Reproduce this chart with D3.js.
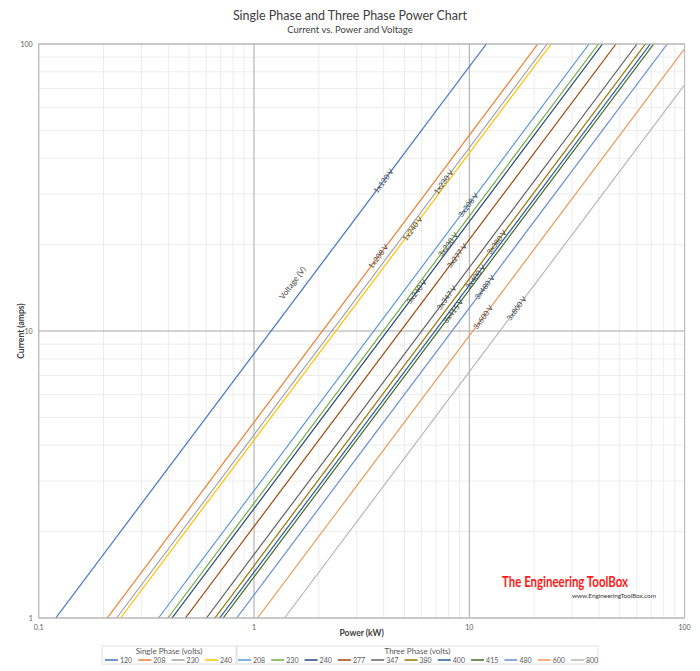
<!DOCTYPE html>
<html>
<head>
<meta charset="utf-8">
<script src="https://cdn.jsdelivr.net/npm/d3@7"></script>
<style>
  html, body { margin: 0; padding: 0; background: #fff; }
  #chart { width: 700px; height: 671px; }
  text { font-family: Lato, 'Open Sans', sans-serif; }
</style>
</head>
<body>
<div id="chart"></div>
<script>
// Single phase series (volts) and the power (kW) where each line meets 1 A and 100 A
const singleVolts = [120, 208, 230, 240];
const singlePowerAt1A = [0.12, 0.208, 0.23, 0.24];
const singlePowerAt100A = [12, 20.8, 23, 24];
const singleColors = ['#4472C4', '#ED7D31', '#A5A5A5', '#FFC000'];
const singleLabelPower = [4.0, 3.78, 7.6, 5.45];

// Three phase series
const threeVolts = [208, 230, 240, 277, 347, 380, 400, 415, 480, 600, 800];
const threePowerAt1A = [0.360, 0.398, 0.416, 0.480, 0.601, 0.658, 0.693, 0.719, 0.831, 1.039, 1.386];
const threePowerAt100A = [36.0, 39.8, 41.6, 48.0, 60.1, 65.8, 69.3, 71.9, 83.1, 103.9, 138.6];
const threeColors = ['#5B9BD5', '#70AD47', '#264478', '#9E480E', '#636363', '#997300',
  '#255E91', '#43682B', '#698ED0', '#F1975A', '#B7B7B7'];
const threeLabelPower = [9.9, 7.96, 5.7, 8.77, 7.85, 13.4, 10.7, 8.43, 11.8, 11.6, 16.6];

const currentEnds = [1, 100];
const xTickValues = [0.1, 1, 10, 100];
const yTickValues = [1, 10, 100];
const voltageLabelPoint = { power: 1.51, current: 14.7 };

const width = 700;
const height = 671;
const margin = { top: 44, right: 15.4, bottom: 53, left: 38.7 };

const svg = d3.select('#chart')
  .append('svg')
  .attr('width', width)
  .attr('height', height);

svg.append('rect')
  .attr('width', width)
  .attr('height', height)
  .attr('fill', '#fff');

const x = d3.scaleLog()
  .domain([0.1, 100])
  .range([margin.left, width - margin.right]);

const y = d3.scaleLog()
  .domain([1, 100])
  .range([height - margin.bottom, margin.top]);

const plotLeft = x.range()[0], plotRight = x.range()[1];
const plotTop = y.range()[1], plotBottom = y.range()[0];

// Title
svg.append('text')
  .attr('x', 350)
  .attr('y', 20)
  .attr('text-anchor', 'middle')
  .attr('font-size', '12.5px')
  .attr('fill', '#404040')
  .text('Single Phase and Three Phase Power Chart');

svg.append('text')
  .attr('x', 350)
  .attr('y', 33)
  .attr('text-anchor', 'middle')
  .attr('font-size', '9.5px')
  .attr('fill', '#404040')
  .text('Current vs. Power and Voltage');

// Minor gridlines
const isDecade = (v) => Math.abs(Math.log10(v) - Math.round(Math.log10(v))) < 1e-6;

svg.append('g')
  .selectAll('line')
  .data(x.ticks().filter((v) => !isDecade(v)))
  .join('line')
  .attr('x1', (d) => x(d))
  .attr('x2', (d) => x(d))
  .attr('y1', plotTop)
  .attr('y2', plotBottom)
  .attr('stroke', '#ececec')
  .attr('stroke-width', 1);

svg.append('g')
  .selectAll('line')
  .data(y.ticks().filter((v) => !isDecade(v)))
  .join('line')
  .attr('x1', plotLeft)
  .attr('x2', plotRight)
  .attr('y1', (d) => y(d))
  .attr('y2', (d) => y(d))
  .attr('stroke', '#ececec')
  .attr('stroke-width', 1);

// Major gridlines
svg.append('g')
  .selectAll('line')
  .data(xTickValues)
  .join('line')
  .attr('x1', (d) => x(d))
  .attr('x2', (d) => x(d))
  .attr('y1', plotTop)
  .attr('y2', plotBottom)
  .attr('stroke', '#a6a6a6')
  .attr('stroke-width', 1);

svg.append('g')
  .selectAll('line')
  .data(yTickValues)
  .join('line')
  .attr('x1', plotLeft)
  .attr('x2', plotRight)
  .attr('y1', (d) => y(d))
  .attr('y2', (d) => y(d))
  .attr('stroke', '#a6a6a6')
  .attr('stroke-width', 1);

// Axis tick labels
svg.append('g')
  .selectAll('text')
  .data(yTickValues)
  .join('text')
  .attr('x', plotLeft - 6)
  .attr('y', (d) => y(d) + 2.5)
  .attr('text-anchor', 'end')
  .attr('font-size', '7px')
  .attr('fill', '#595959')
  .text((d) => d);

svg.append('g')
  .selectAll('text')
  .data(xTickValues)
  .join('text')
  .attr('x', (d) => x(d))
  .attr('y', plotBottom + 12)
  .attr('text-anchor', 'middle')
  .attr('font-size', '7px')
  .attr('fill', '#595959')
  .text((d) => d);

// Axis titles
svg.append('text')
  .attr('transform', `translate(24, ${(plotTop + plotBottom) / 2}) rotate(-90)`)
  .attr('text-anchor', 'middle')
  .attr('font-size', '8.5px')
  .attr('font-weight', 'bold')
  .attr('fill', '#404040')
  .text('Current (amps)');

svg.append('text')
  .attr('x', (plotLeft + plotRight) / 2)
  .attr('y', plotBottom + 18)
  .attr('text-anchor', 'middle')
  .attr('font-size', '8.5px')
  .attr('font-weight', 'bold')
  .attr('fill', '#404040')
  .text('Power (kW)');

// Build series
const series = [];
singleVolts.forEach((v, i) => series.push({
  name: `1x${v} V`, volts: v, color: singleColors[i],
  p1: singlePowerAt1A[i], p100: singlePowerAt100A[i], labelP: singleLabelPower[i]
}));
threeVolts.forEach((v, i) => series.push({
  name: `3x${v} V`, volts: v, color: threeColors[i],
  p1: threePowerAt1A[i], p100: threePowerAt100A[i], labelP: threeLabelPower[i]
}));

svg.append('defs')
  .append('clipPath')
  .attr('id', 'plot-clip')
  .append('rect')
  .attr('x', plotLeft)
  .attr('y', plotTop)
  .attr('width', plotRight - plotLeft)
  .attr('height', plotBottom - plotTop);

const line = d3.line()
  .x((d) => x(d.power))
  .y((d) => y(d.current));

const linesG = svg.append('g').attr('clip-path', 'url(#plot-clip)');

linesG.selectAll('path')
  .data(series)
  .join('path')
  .attr('fill', 'none')
  .attr('stroke', (d) => d.color)
  .attr('stroke-width', 1.2)
  .attr('d', (d) => line([
    { power: d.p1, current: currentEnds[0] },
    { power: d.p100, current: currentEnds[1] }
  ]));

// Line labels, placed on each line
const angleOf = (d) => Math.atan2(y(currentEnds[1]) - y(currentEnds[0]), x(d.p100) - x(d.p1)) * 180 / Math.PI;
const currentOnLine = (d, p) => {
  const t = (Math.log10(p) - Math.log10(d.p1)) / (Math.log10(d.p100) - Math.log10(d.p1));
  return Math.pow(10, Math.log10(currentEnds[0]) + t * (Math.log10(currentEnds[1]) - Math.log10(currentEnds[0])));
};

svg.append('g')
  .selectAll('text')
  .data(series)
  .join('text')
  .attr('transform', (d) => `translate(${x(d.labelP)}, ${y(currentOnLine(d, d.labelP))}) rotate(${angleOf(d)})`)
  .attr('text-anchor', 'middle')
  .attr('dy', '0.35em')
  .attr('font-size', '7.5px')
  .attr('fill', '#404040')
  .text((d) => d.name);

svg.append('text')
  .attr('transform', `translate(${x(voltageLabelPoint.power)}, ${y(voltageLabelPoint.current)}) rotate(${angleOf(series[0])})`)
  .attr('text-anchor', 'middle')
  .attr('dy', '0.35em')
  .attr('font-size', '8px')
  .attr('fill', '#404040')
  .text('Voltage (V)');

// Plot border
svg.append('rect')
  .attr('x', plotLeft)
  .attr('y', plotTop)
  .attr('width', plotRight - plotLeft)
  .attr('height', plotBottom - plotTop)
  .attr('fill', 'none')
  .attr('stroke', '#bfbfbf')
  .attr('stroke-width', 1);

// Logo
svg.append('text')
  .attr('x', 502)
  .attr('y', 587)
  .attr('font-family', "'Liberation Sans Narrow', 'DejaVu Sans Condensed', sans-serif")
  .attr('font-size', '15px')
  .attr('font-weight', 'bold')
  .attr('fill', '#ff1a1a')
  .attr('textLength', 126)
  .attr('lengthAdjust', 'spacingAndGlyphs')
  .text('The Engineering ToolBox');

svg.append('text')
  .attr('x', 572)
  .attr('y', 598)
  .attr('font-family', "'Liberation Sans', Arial, sans-serif")
  .attr('font-size', '6.5px')
  .attr('fill', '#404040')
  .attr('textLength', 84)
  .text('www.EngineeringToolBox.com');

// Legend
function drawLegend(title, items, left, right, itemStart) {
  const g = svg.append('g');
  g.append('rect')
    .attr('x', left)
    .attr('y', 646)
    .attr('width', right - left)
    .attr('height', 18)
    .attr('fill', '#fff')
    .attr('stroke', '#e0e0e0');
  g.append('text')
    .attr('x', (left + right) / 2)
    .attr('y', 654)
    .attr('text-anchor', 'middle')
    .attr('font-size', '8px')
    .attr('fill', '#595959')
    .text(title);
  const step = 33.3;
  const item = g.selectAll('g.item')
    .data(items)
    .join('g')
    .attr('class', 'item')
    .attr('transform', (d, i) => `translate(${itemStart + i * step}, 660)`);
  item.append('line')
    .attr('x1', 0)
    .attr('x2', 13)
    .attr('stroke', (d) => d.color)
    .attr('stroke-width', 1.5);
  item.append('text')
    .attr('x', 15)
    .attr('y', 2.5)
    .attr('font-size', '7px')
    .attr('fill', '#595959')
    .text((d) => d.volts);
}

drawLegend('Single Phase (volts)', series.slice(0, 4), 102, 236, 105);
drawLegend('Three Phase (volts)', series.slice(4), 237, 598, 238);
</script>
</body>
</html>
